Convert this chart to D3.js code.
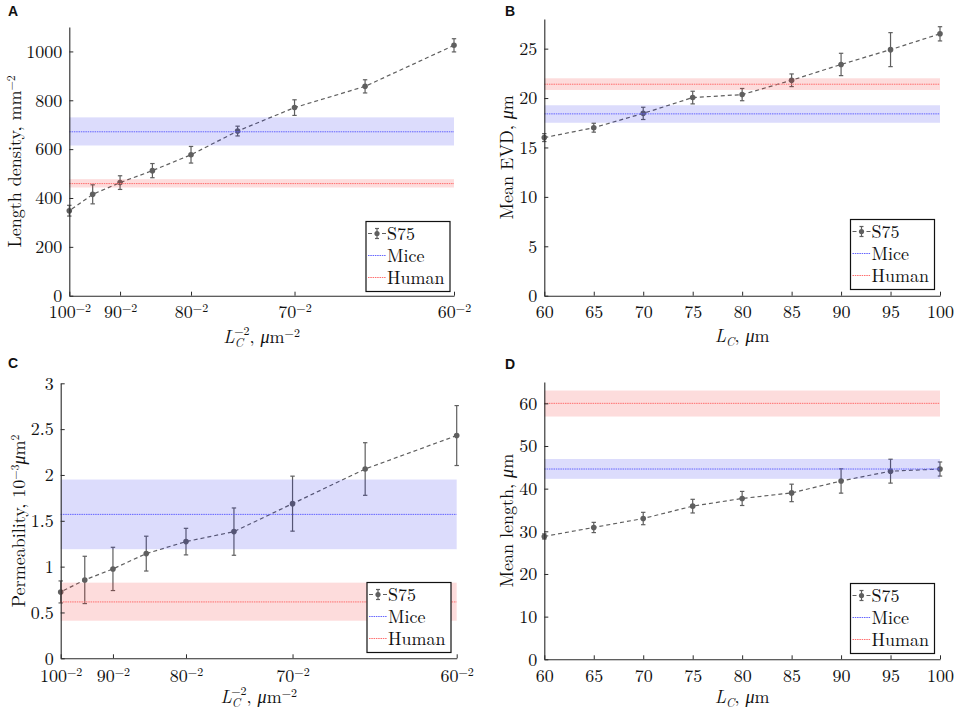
<!DOCTYPE html>
<html><head><meta charset="utf-8">
<script src="https://cdn.jsdelivr.net/npm/d3@7"></script>
<style>
html,body{margin:0;padding:0;background:#fff;}
svg{display:block;}
text{font-family:"Latin Modern Roman","Liberation Serif",serif;fill:#111;}
</style></head>
<body>
<svg id="chart" width="957" height="712"></svg>
<script>
// ---------- data ----------
const LC = [60, 65, 70, 75, 80, 85, 90, 95, 100];               // L_C, µm
const invTickLC = [100, 90, 80, 70, 60];                         // ticks for L_C^-2 axes
const linTickLC = [60, 65, 70, 75, 80, 85, 90, 95, 100];

const lengthDensity    = [1025, 857, 770, 674, 577, 512, 463, 415, 348];
const lengthDensityErr = [27, 27, 32, 20, 34, 29, 28, 39, 22];
const meanEVD    = [16.0, 17.0, 18.45, 20.05, 20.35, 21.8, 23.4, 24.9, 26.5];
const meanEVDErr = [0.4, 0.45, 0.62, 0.64, 0.62, 0.64, 1.13, 1.72, 0.72];
const permeability    = [2.43, 2.065, 1.687, 1.382, 1.273, 1.142, 0.975, 0.855, 0.724];
const permeabilityErr = [0.327, 0.287, 0.30, 0.258, 0.145, 0.19, 0.236, 0.258, 0.12];
const meanLength    = [28.8, 30.9, 33.0, 35.9, 37.7, 39.0, 41.8, 44.1, 44.6];
const meanLengthErr = [0.6, 1.2, 1.45, 1.6, 1.65, 2.05, 2.85, 2.8, 1.65];

// reference values: [mean, low, high]
const miceLengthDensity  = [671, 615, 730];
const humanLengthDensity = [459, 443, 477];
const miceEVD  = [18.4, 17.5, 19.27];
const humanEVD = [21.4, 20.82, 22.0];
const micePerm  = [1.57, 1.19, 1.95];
const humanPerm = [0.615, 0.41, 0.825];
const miceLength  = [44.6, 42.3, 46.95];
const humanLength = [60.0, 56.9, 63.0];

const yTicksA = [0, 200, 400, 600, 800, 1000];
const yTicksB = [0, 5, 10, 15, 20, 25];
const yTicksC = [0, 0.5, 1, 1.5, 2, 2.5, 3];
const yTicksD = [0, 10, 20, 30, 40, 50, 60];
const legendLabels = ["S75", "Mice", "Human"];

// ---------- drawing ----------
const svg = d3.select("#chart");
const FONT = "Latin Modern Roman";
const GRAY = "#5f5f5f", AX = "#2a2a2a";
const BLUE_LINE = "#6464ff", RED_LINE = "#ff6e6e";
const BLUE_FILL = "rgba(40,40,235,0.16)", RED_FILL = "rgba(245,40,40,0.16)";
const SUP = 12;

function panel(o) {
  const g = svg.append("g");
  const inv = o.inverse;
  const xv = L => inv ? Math.pow(L, -2) : L;
  const x = d3.scaleLinear().domain(inv ? [Math.pow(100,-2), Math.pow(60,-2)] : [60, 100]).range([o.left, o.right]);
  const y = d3.scaleLinear().domain([0, o.yMax]).range([o.bottom, o.top]);

  // S75 series
  const pts = LC.map((L, i) => ({L, v: o.mean[i], e: o.err[i]}));
  g.append("path").datum(pts)
    .attr("d", d3.line().x(d => x(xv(d.L))).y(d => y(d.v)))
    .attr("fill", "none").attr("stroke", GRAY).attr("stroke-width", 1.2)
    .attr("stroke-dasharray", "4,3");
  const eb = g.append("g").selectAll("g").data(pts).join("g");
  eb.append("line").attr("x1", d => x(xv(d.L))).attr("x2", d => x(xv(d.L)))
    .attr("y1", d => y(d.v - d.e)).attr("y2", d => y(d.v + d.e))
    .attr("stroke", GRAY).attr("stroke-width", 1.2);
  [-1, 1].forEach(s => {
    eb.append("line").attr("x1", d => x(xv(d.L)) - 2.2).attr("x2", d => x(xv(d.L)) + 2.2)
      .attr("y1", d => y(d.v + s * d.e)).attr("y2", d => y(d.v + s * d.e))
      .attr("stroke", GRAY).attr("stroke-width", 1.2);
  });
  eb.append("circle").attr("cx", d => x(xv(d.L))).attr("cy", d => y(d.v)).attr("r", 2.8).attr("fill", GRAY);

  // reference bands
  const x0 = x.range()[0], x1 = x.range()[1];
  [[o.mice, BLUE_FILL, BLUE_LINE], [o.human, RED_FILL, RED_LINE]].forEach(([r, f, l]) => {
    g.append("rect").attr("x", x0).attr("width", x1 - x0)
      .attr("y", y(r[2])).attr("height", y(r[1]) - y(r[2])).attr("fill", f);
    g.append("line").attr("x1", x0).attr("x2", x1).attr("y1", y(r[0])).attr("y2", y(r[0]))
      .attr("stroke", l).attr("stroke-width", 1).attr("stroke-dasharray", "1.5,0.8");
  });

  // axes
  const xAxis = d3.axisBottom(x).tickSizeInner(-4).tickSizeOuter(0).tickPadding(9);
  if (inv) xAxis.tickValues(invTickLC.map(L => Math.pow(L, -2))).tickFormat("");
  else xAxis.tickValues(linTickLC.map(xv)).tickFormat(d3.format("d"));
  const gx = g.append("g").attr("transform", `translate(0,${o.bottom})`).call(xAxis);
  const yAxis = d3.axisLeft(y).tickValues(o.yTicks).tickSizeInner(-4).tickSizeOuter(0).tickPadding(7)
    .tickFormat(d3.format("~g"));
  const gy = g.append("g").attr("transform", `translate(${o.left},0)`).call(yAxis);
  [gx, gy].forEach(a => {
    a.attr("font-family", FONT);
    a.select(".domain").attr("stroke", AX).attr("stroke-width", 1.1);
    a.selectAll(".tick line").attr("stroke", AX).attr("stroke-width", 1);
    a.selectAll(".tick text").attr("font-family", FONT).attr("font-size", 18).attr("fill", "#111");
  });
  gx.selectAll(".tick text").attr("dy", null).attr("y", o.tickBase - o.bottom);
  if (inv) {
    gx.selectAll(".tick").each(function(d, i) {
      const t = d3.select(this).select("text");
      t.attr("text-anchor", "middle");
      t.append("tspan").text(invTickLC[i]);
      t.append("tspan").attr("font-size", SUP).attr("dy", -6).text("\u22122");
    });
  }

  // y label
  const yl = g.append("text").attr("transform", `translate(${o.ylx},${(o.top + o.bottom) / 2}) rotate(-90)`)
    .attr("text-anchor", "middle").attr("font-size", 18);
  o.ylabel(yl);
  // x label
  const xl = g.append("text").attr("x", (o.left + o.right) / 2).attr("y", o.xlBase)
    .attr("text-anchor", "middle").attr("font-size", 18);
  xl.append("tspan").attr("font-style", "italic").text("L");
  xl.append("tspan").attr("font-style", "italic").attr("font-size", SUP).attr("dy", 4).text("C");
  if (inv) {
    xl.append("tspan").attr("font-size", SUP).attr("dx", -9).attr("dy", -12).text("\u22122");
    xl.append("tspan").attr("dy", 8).text(", ");
  } else {
    xl.append("tspan").attr("dy", -4).text(", ");
  }
  xl.append("tspan").attr("font-style", "italic").text("\u03bc");
  xl.append("tspan").text("m");
  if (inv) xl.append("tspan").attr("font-size", SUP).attr("dy", -6).text("\u22122");

  // panel letter
  svg.append("text").attr("x", o.letterX).attr("y", o.letterY).text(o.letter)
    .style("font-family", "'Liberation Sans', Arial, sans-serif").attr("font-weight", "bold").attr("font-size", 14);

  // legend
  const lg = g.append("g").attr("transform", `translate(${o.lgx},${o.lgy})`);
  lg.append("rect").attr("width", 84).attr("height", 70).attr("fill", "#fff").attr("stroke", "#111").attr("stroke-width", 1.2);
  const rows = [12, 34, 56];
  lg.append("line").attr("x1", 2).attr("x2", 20).attr("y1", rows[0]).attr("y2", rows[0])
    .attr("stroke", GRAY).attr("stroke-width", 1.2).attr("stroke-dasharray", "4,3");
  lg.append("line").attr("x1", 11).attr("x2", 11).attr("y1", rows[0] - 5).attr("y2", rows[0] + 5).attr("stroke", GRAY).attr("stroke-width", 1.2);
  [-5, 5].forEach(dd => lg.append("line").attr("x1", 9).attr("x2", 13).attr("y1", rows[0] + dd).attr("y2", rows[0] + dd).attr("stroke", GRAY).attr("stroke-width", 1.2));
  lg.append("circle").attr("cx", 11).attr("cy", rows[0]).attr("r", 2.6).attr("fill", GRAY);
  lg.append("line").attr("x1", 2).attr("x2", 20).attr("y1", rows[1]).attr("y2", rows[1]).attr("stroke", BLUE_LINE).attr("stroke-dasharray", "1.5,0.8");
  lg.append("line").attr("x1", 2).attr("x2", 20).attr("y1", rows[2]).attr("y2", rows[2]).attr("stroke", RED_LINE).attr("stroke-dasharray", "1.5,0.8");
  legendLabels.forEach((t, i) => lg.append("text").attr("x", 21).attr("y", rows[i] + 6).attr("font-size", 18).text(t));
}

panel({
  letter: "A", letterX: 8, letterY: 16,
  inverse: true,
  left: 69.3, right: 454, top: 27, bottom: 295.7, yMax: 1100, yTicks: yTicksA,
  mean: lengthDensity, err: lengthDensityErr, mice: miceLengthDensity, human: humanLengthDensity,
  tickBase: 318, xlBase: 343, ylx: 20.5, lgx: 366, lgy: 221.5,
  ylabel: t => { t.append("tspan").text("Length density, mm"); t.append("tspan").attr("font-size", SUP).attr("dy", -6).text("\u22122"); }
});
panel({
  letter: "B", letterX: 505, letterY: 16,
  inverse: false,
  left: 544.3, right: 940, top: 19, bottom: 295.7, yMax: 28, yTicks: yTicksB,
  mean: meanEVD, err: meanEVDErr, mice: miceEVD, human: humanEVD,
  tickBase: 318, xlBase: 342, ylx: 513, lgx: 850.5, lgy: 219.5,
  ylabel: t => { t.append("tspan").text("Mean EVD, "); t.append("tspan").attr("font-style", "italic").text("\u03bc"); t.append("tspan").text("m"); }
});
panel({
  letter: "C", letterX: 8, letterY: 368,
  inverse: true,
  left: 60.7, right: 456.7, top: 383.3, bottom: 658.3, yMax: 3, yTicks: yTicksC,
  mean: permeability, err: permeabilityErr, mice: micePerm, human: humanPerm,
  tickBase: 682, xlBase: 703, ylx: 25, lgx: 367, lgy: 582.5,
  ylabel: t => { t.append("tspan").text("Permeability, 10"); t.append("tspan").attr("font-size", SUP).attr("dy", -6).text("\u22123");
                 t.append("tspan").attr("dy", 6).attr("font-style", "italic").text("\u03bc"); t.append("tspan").text("m");
                 t.append("tspan").attr("font-size", SUP).attr("dy", -6).text("2"); }
});
panel({
  letter: "D", letterX: 505, letterY: 369,
  inverse: false,
  left: 544.3, right: 940, top: 382, bottom: 659.3, yMax: 65, yTicks: yTicksD,
  mean: meanLength, err: meanLengthErr, mice: miceLength, human: humanLength,
  tickBase: 682, xlBase: 703, ylx: 513, lgx: 850.5, lgy: 583.5,
  ylabel: t => { t.append("tspan").text("Mean length, "); t.append("tspan").attr("font-style", "italic").text("\u03bc"); t.append("tspan").text("m"); }
});
</script>
</body></html>
